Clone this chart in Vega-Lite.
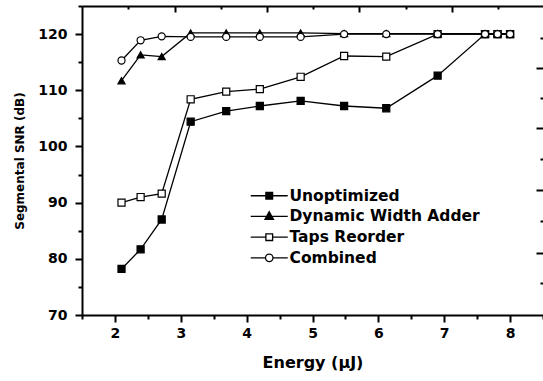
{
  "$schema": "https://vega.github.io/schema/vega-lite/v6.json",
  "width": 461,
  "height": 309,
  "autosize": {"type": "none"},
  "padding": {"left": 82, "top": 6, "right": 0, "bottom": 66},
  "background": "white",
  "config": {"view": {"stroke": null}, "font": "DejaVu Sans"},
  "data": {
    "values": [
      {"series": "Unoptimized", "energy": 2.1, "snr": 78.2},
      {"series": "Unoptimized", "energy": 2.39, "snr": 81.7},
      {"series": "Unoptimized", "energy": 2.71, "snr": 87.0},
      {"series": "Unoptimized", "energy": 3.15, "snr": 104.4},
      {"series": "Unoptimized", "energy": 3.69, "snr": 106.3},
      {"series": "Unoptimized", "energy": 4.2, "snr": 107.2},
      {"series": "Unoptimized", "energy": 4.82, "snr": 108.1},
      {"series": "Unoptimized", "energy": 5.48, "snr": 107.2},
      {"series": "Unoptimized", "energy": 6.12, "snr": 106.8},
      {"series": "Unoptimized", "energy": 6.9, "snr": 112.6},
      {"series": "Unoptimized", "energy": 7.62, "snr": 120.0},
      {"series": "Unoptimized", "energy": 7.81, "snr": 120.0},
      {"series": "Unoptimized", "energy": 8.0, "snr": 120.0},
      {"series": "Taps Reorder", "energy": 2.1, "snr": 90.0},
      {"series": "Taps Reorder", "energy": 2.39, "snr": 91.0},
      {"series": "Taps Reorder", "energy": 2.71, "snr": 91.6},
      {"series": "Taps Reorder", "energy": 3.15, "snr": 108.4},
      {"series": "Taps Reorder", "energy": 3.69, "snr": 109.75},
      {"series": "Taps Reorder", "energy": 4.2, "snr": 110.2},
      {"series": "Taps Reorder", "energy": 4.82, "snr": 112.4},
      {"series": "Taps Reorder", "energy": 5.48, "snr": 116.1},
      {"series": "Taps Reorder", "energy": 6.12, "snr": 116.0},
      {"series": "Taps Reorder", "energy": 6.9, "snr": 120.0},
      {"series": "Taps Reorder", "energy": 7.62, "snr": 120.0},
      {"series": "Taps Reorder", "energy": 7.81, "snr": 120.0},
      {"series": "Taps Reorder", "energy": 8.0, "snr": 120.0},
      {"series": "Dynamic Width Adder", "energy": 2.1, "snr": 111.7},
      {"series": "Dynamic Width Adder", "energy": 2.39, "snr": 116.3},
      {"series": "Dynamic Width Adder", "energy": 2.71, "snr": 116.0},
      {"series": "Dynamic Width Adder", "energy": 3.15, "snr": 120.2},
      {"series": "Dynamic Width Adder", "energy": 3.69, "snr": 120.2},
      {"series": "Dynamic Width Adder", "energy": 4.2, "snr": 120.2},
      {"series": "Dynamic Width Adder", "energy": 4.82, "snr": 120.2},
      {"series": "Dynamic Width Adder", "energy": 5.48, "snr": 120.1},
      {"series": "Dynamic Width Adder", "energy": 6.12, "snr": 120.1},
      {"series": "Dynamic Width Adder", "energy": 6.9, "snr": 120.1},
      {"series": "Dynamic Width Adder", "energy": 7.62, "snr": 120.1},
      {"series": "Dynamic Width Adder", "energy": 7.81, "snr": 120.1},
      {"series": "Dynamic Width Adder", "energy": 8.0, "snr": 120.1},
      {"series": "Combined", "energy": 2.1, "snr": 115.3},
      {"series": "Combined", "energy": 2.39, "snr": 118.9},
      {"series": "Combined", "energy": 2.71, "snr": 119.6},
      {"series": "Combined", "energy": 3.15, "snr": 119.5},
      {"series": "Combined", "energy": 3.69, "snr": 119.5},
      {"series": "Combined", "energy": 4.2, "snr": 119.5},
      {"series": "Combined", "energy": 4.82, "snr": 119.5},
      {"series": "Combined", "energy": 5.48, "snr": 120.0},
      {"series": "Combined", "energy": 6.12, "snr": 120.0},
      {"series": "Combined", "energy": 6.9, "snr": 120.0},
      {"series": "Combined", "energy": 7.62, "snr": 120.0},
      {"series": "Combined", "energy": 7.81, "snr": 120.0},
      {"series": "Combined", "energy": 8.0, "snr": 120.0}
    ]
  },
  "resolve": {"axis": {"x": "independent", "y": "independent"}},
  "layer": [
    {
      "mark": {"type": "line", "color": "black", "strokeWidth": 1.3},
      "encoding": {
        "x": {
          "field": "energy", "type": "quantitative",
          "scale": {"domain": [1.5, 8.5], "nice": false, "zero": false},
          "axis": {
            "orient": "bottom",
            "values": [1.5, 2, 2.5, 3, 3.5, 4, 4.5, 5, 5.5, 6, 6.5, 7, 7.5, 8, 8.5],
            "labelExpr": "datum.value % 1 === 0 ? '' + datum.value : ''",
            "tickSize": {"condition": {"test": "datum.value % 1 === 0", "value": 7}, "value": 4},
            "tickWidth": 2, "tickColor": "black",
            "domainWidth": 2, "domainColor": "black",
            "grid": false,
            "labelFont": "DejaVu Sans", "labelFontWeight": "bold", "labelFontSize": 14, "labelColor": "black",
            "labelPadding": 4, "labelFlush": false, "labelOverlap": false,
            "title": "Energy  (μJ)",
            "titleFont": "DejaVu Sans", "titleFontWeight": "bold", "titleFontSize": 16, "titleColor": "black",
            "titlePadding": 14
          }
        },
        "y": {
          "field": "snr", "type": "quantitative",
          "scale": {"domain": [70, 125], "nice": false, "zero": false},
          "axis": {
            "orient": "left",
            "values": [70, 75, 80, 85, 90, 95, 100, 105, 110, 115, 120, 125],
            "labelExpr": "datum.value % 10 === 0 ? '' + datum.value : ''",
            "tickSize": {"condition": {"test": "datum.value % 10 === 0", "value": 7}, "value": 4},
            "tickWidth": 2, "tickColor": "black",
            "domainWidth": 2, "domainColor": "black",
            "grid": false,
            "labelFont": "DejaVu Sans", "labelFontWeight": "bold", "labelFontSize": 14, "labelColor": "black",
            "labelPadding": 8, "labelFlush": false, "labelOverlap": false,
            "title": "Segmental SNR (dB)",
            "titleFont": "DejaVu Sans", "titleFontWeight": "bold", "titleFontSize": 12, "titleColor": "black",
            "titlePadding": 11
          }
        },
        "detail": {"field": "series", "type": "nominal"}
      }
    },
    {
      "mark": {"type": "point", "filled": true, "stroke": "black", "strokeWidth": 1.2, "size": 50, "opacity": 1},
      "encoding": {
        "x": {"field": "energy", "type": "quantitative", "axis": null},
        "y": {"field": "snr", "type": "quantitative", "axis": null},
        "fill": {
          "condition": {"test": "datum.series === 'Unoptimized' || datum.series === 'Dynamic Width Adder'", "value": "black"},
          "value": "white"
        },
        "shape": {
          "condition": [
            {"test": "datum.series === 'Combined'", "value": "circle"},
            {"test": "datum.series === 'Dynamic Width Adder'", "value": "triangle-up"}
          ],
          "value": "square"
        }
      }
    },
    {
      "mark": {"type": "point", "filled": true, "opacity": 0, "strokeWidth": 1.3},
      "encoding": {
        "x": {
          "field": "energy", "type": "quantitative",
          "axis": {
            "orient": "top",
            "values": [2.203, 2.912, 3.611, 4.305, 5.012, 5.711, 6.42, 7.114, 7.821],
            "labels": false, "title": null, "grid": false,
            "tickSize": {"condition": {"test": "indexof([2.912, 4.305, 5.711, 7.114], datum.value) >= 0", "value": -6}, "value": -3},
            "tickWidth": 2, "tickColor": "black",
            "domainWidth": 2, "domainColor": "black"
          }
        },
        "y": {
          "field": "snr", "type": "quantitative",
          "axis": {
            "orient": "right",
            "values": [119.25, 114.02, 108.57, 103.23, 97.71, 92.25, 86.73, 81.09, 75.7],
            "labels": false, "title": null, "grid": false, "domain": false,
            "tickSize": {"condition": {"test": "indexof([114.02, 103.23, 92.25, 81.09], datum.value) >= 0", "value": -7}, "value": -3},
            "tickWidth": 2, "tickColor": "black"
          }
        },
        "fill": {
          "field": "series", "type": "nominal",
          "scale": {"domain": ["Unoptimized", "Dynamic Width Adder", "Taps Reorder", "Combined"], "range": ["black", "black", "white", "white"]},
          "legend": {
            "title": null, "orient": "none", "legendX": 179.5, "legendY": 182, "padding": 0,
            "labelFont": "DejaVu Sans", "labelFontWeight": "bold", "labelFontSize": 15.5, "labelColor": "black",
            "labelLimit": 400, "labelOffset": 12.5, "symbolSize": 100, "symbolStrokeWidth": 1.3,
            "symbolOpacity": 1, "rowPadding": 3.7
          }
        },
        "stroke": {
          "field": "series", "type": "nominal",
          "scale": {"domain": ["Unoptimized", "Dynamic Width Adder", "Taps Reorder", "Combined"], "range": ["black", "black", "black", "black"]},
          "legend": {
            "title": null, "orient": "none", "legendX": 179.5, "legendY": 182, "padding": 0,
            "labelFont": "DejaVu Sans", "labelFontWeight": "bold", "labelFontSize": 15.5, "labelColor": "black",
            "labelLimit": 400, "labelOffset": 12.5, "symbolSize": 100, "symbolStrokeWidth": 1.3,
            "symbolOpacity": 1, "rowPadding": 3.7
          }
        },
        "shape": {
          "field": "series", "type": "nominal",
          "scale": {
            "domain": ["Unoptimized", "Dynamic Width Adder", "Taps Reorder", "Combined"],
            "range": [
              "M-3.7,0H-0.67M0.67,0H3.7M-0.67,-0.67H0.67V0.67H-0.67Z",
              "M-3.7,0H3.7M0,-0.95L0.85,0.6L-0.85,0.6Z",
              "M-3.7,0H-0.67M0.67,0H3.7M-0.67,-0.67H0.67V0.67H-0.67Z",
              "M-3.7,0H-0.75M0.75,0H3.7M-0.75,0A0.75,0.75,0,1,1,0.75,0A0.75,0.75,0,1,1,-0.75,0Z"
            ]
          },
          "legend": {
            "title": null, "orient": "none", "legendX": 179.5, "legendY": 182, "padding": 0,
            "labelFont": "DejaVu Sans", "labelFontWeight": "bold", "labelFontSize": 15.5, "labelColor": "black",
            "labelLimit": 400, "labelOffset": 12.5, "symbolSize": 100, "symbolStrokeWidth": 1.3,
            "symbolOpacity": 1, "rowPadding": 3.7
          }
        }
      }
    }
  ]
}
